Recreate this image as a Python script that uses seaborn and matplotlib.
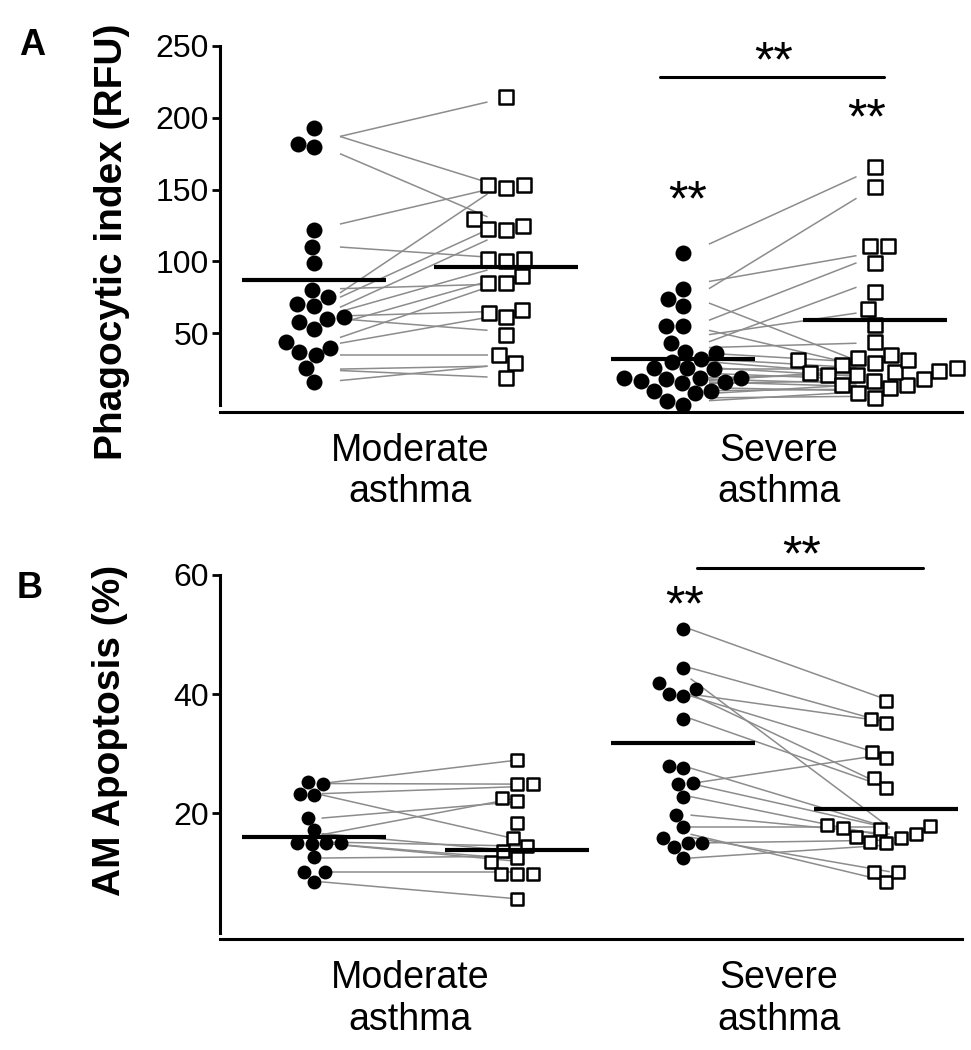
import numpy as np
import pandas as pd
import matplotlib
matplotlib.use("Agg")
import matplotlib.pyplot as plt
import seaborn as sns

groups = ["Moderate\nasthma", "Severe\nasthma"]

# Panel A: phagocytic index (RFU), circles = before, squares = after
a_mod_pre = [193, 180, 182, 122, 110, 99, 80, 70, 69, 75, 60, 53, 58, 61,
             44, 37, 34.5, 40, 25.6, 16]
a_mod_post = [214.6, 153, 151, 153, 129.5, 122.5, 122, 124.6, 100, 102, 102,
              90, 85, 85, 66, 61, 64, 49, 35, 29, 18.6]
a_sev_pre = [106, 81, 74, 69, 55, 55, 43, 37, 36, 32, 30, 26, 25, 25.5,
             18.6, 18.6, 16, 17, 15, 18, 19, 10, 8, 9.5, 0, 3]
a_sev_post = [166, 152, 111, 110.5, 99, 78.5, 67, 56, 44, 34.6, 27.7, 20.7,
              13.7, 29, 23, 17, 11.6, 31, 31, 33, 20.7, 22, 25.6, 13.7, 4.7,
              8, 18, 24]
# paired lines (start value, end value)
a_mod_line_pre = [187, 187, 175, 126, 110, 81, 78, 75, 68, 65, 62, 60, 57,
                  47, 43, 35, 25, 24, 17]
a_mod_line_post = [211, 155, 131, 150, 103, 84, 147, 122, 115, 94, 65, 52,
                   86, 82, 61, 35, 27, 19.5, 27]
a_sev_line_pre = [112, 81, 86, 59, 71, 44, 49, 40, 52, 36, 32, 30, 26, 25,
                  22, 19, 18, 17, 16, 15, 12, 10, 8, 5, 3]
a_sev_line_post = [159, 144, 104, 99, 31, 82, 64, 43, 28, 30, 26, 22, 20, 25,
                   18, 21, 15, 24, 13, 17, 10, 11, 14, 6, 9]
a_means = [(87, 96), (32, 59)]

# Panel B: AM apoptosis (%)
b_mod_pre = [25.2, 23.2, 23.0, 24.9, 19.3, 17.2, 15.0, 14.9, 15.0, 15.0,
             12.6, 10.1, 10.1, 8.5]
b_mod_post = [29.0, 25.0, 24.9, 22.0, 22.5, 18.3, 15.8, 14.5, 13.6, 12.5,
              11.8, 9.9, 9.9, 9.9, 5.6]
b_sev_pre = [50.9, 44.4, 41.8, 40.0, 39.7, 40.9, 35.9, 27.9, 27.6, 25.1,
             25.0, 22.8, 19.7, 17.7, 15.8, 15.0, 14.3, 15.0, 12.5]
b_sev_post = [38.9, 35.1, 35.8, 30.3, 29.3, 25.9, 24.2, 17.3, 17.8, 18.0,
              16.1, 15.2, 15.0, 15.8, 16.6, 17.5, 10.2, 8.5, 10.2]
b_mod_line_pre = [25.0, 25.0, 23.3, 19.2, 23.1, 16.4, 16.6, 15.2, 15.0, 15.0,
                  12.5, 10.1, 8.5]
b_mod_line_post = [29.0, 24.9, 24.5, 22.0, 15.5, 22.7, 13.6, 14.5, 12.3, 11.9,
                   12.8, 10.1, 5.6]
b_sev_line_pre = [50.9, 44.4, 42.6, 40.0, 40.0, 39.7, 35.9, 27.6, 25.0, 25.0,
                  22.8, 19.7, 17.7, 16.5, 16.0, 15.0, 12.5]
b_sev_line_post = [38.9, 35.1, 17.6, 35.3, 24.2, 29.5, 24.2, 17.5, 30.0, 17.5,
                   16.0, 16.5, 17.7, 8.5, 10.2, 15.5, 14.7]
b_means = [(16.1, 13.8), (31.8, 20.7)]


def make_frame(pre_lists, post_lists, off_pre, off_post):
    rows = []
    for gi, (pre, post) in enumerate(zip(pre_lists, post_lists)):
        rows += [(gi + off_pre, v, "pre") for v in pre]
        rows += [(gi + off_post, v, "post") for v in post]
    return pd.DataFrame(rows, columns=["x", "value", "cond"])


def draw_panel(ax, df, lines_pre, lines_post, means, off_pre, off_post,
               line_off, sz_circle, sz_square):
    # paired gray lines
    for gi, (lp, lq) in enumerate(zip(lines_pre, lines_post)):
        for p, q in zip(lp, lq):
            ax.plot([gi + line_off[0], gi + line_off[1]], [p, q],
                    color="#8c8c8c", lw=1.1, zorder=1, solid_capstyle="butt")

    sns.swarmplot(data=df[df.cond == "pre"], x="x", y="value",
                  native_scale=True, orient="x", color="black",
                  size=sz_circle, marker="o", linewidth=0, zorder=3,
                  clip_on=False, legend=False, ax=ax)
    sns.swarmplot(data=df[df.cond == "post"], x="x", y="value",
                  native_scale=True, orient="x", color="white",
                  edgecolor="black", size=sz_square, marker="s",
                  linewidth=1.8, zorder=3, clip_on=False, legend=False, ax=ax)

    # mean bars
    for gi, (m_pre, m_post) in enumerate(means):
        ax.plot([gi + off_pre - 0.195, gi + off_pre + 0.195], [m_pre, m_pre],
                color="black", lw=3, zorder=5, solid_capstyle="butt")
        ax.plot([gi + off_post - 0.195, gi + off_post + 0.195],
                [m_post, m_post], color="black", lw=3, zorder=5,
                solid_capstyle="butt")

    ax.set_xlim(-0.515, 1.496)
    ax.set_xticks([0, 1])
    ax.set_xticklabels(groups)
    ax.set_xlabel("")
    ax.tick_params(axis="x", length=0, pad=15, labelsize=27,
                   labelcolor="black")
    ax.tick_params(axis="y", direction="out", length=6, width=2,
                   labelsize=23, pad=2, color="black", labelcolor="black")
    for lab in ax.get_xticklabels():
        lab.set_linespacing(1.0)
    for s in ["top", "right"]:
        ax.spines[s].set_visible(False)
    for s in ["left", "bottom"]:
        ax.spines[s].set_linewidth(2.2)
        ax.spines[s].set_color("black")
    ax.spines["bottom"].set_position(("outward", 5))


sns.set_style("ticks")
plt.rcParams["font.family"] = ["Liberation Sans", "DejaVu Sans"]
plt.rcParams["text.color"] = "black"
plt.rcParams["axes.labelcolor"] = "black"

fig = plt.figure(figsize=(9.71, 10.5), dpi=100)
ax_a = fig.add_axes([0.2266, 0.6143, 0.7642, 0.3419])
ax_b = fig.add_axes([0.2266, 0.1119, 0.7642, 0.3405])

df_a = make_frame([a_mod_pre, a_sev_pre], [a_mod_post, a_sev_post], -0.26, 0.26)
draw_panel(ax_a, df_a, [a_mod_line_pre, a_sev_line_pre],
           [a_mod_line_post, a_sev_line_post], a_means, -0.26, 0.26,
           (-0.19, 0.21), 11.5, 10.5)
ax_a.set_ylim(0, 250)
ax_a.set_yticks([50, 100, 150, 200, 250])
ax_a.set_ylabel("Phagocytic index (RFU)", fontsize=28, fontweight="bold")
ax_a.yaxis.set_label_coords(-0.121, 0.454)

df_b = make_frame([b_mod_pre, b_sev_pre], [b_mod_post, b_sev_post], -0.26, 0.29)
draw_panel(ax_b, df_b, [b_mod_line_pre, b_sev_line_pre],
           [b_mod_line_post, b_sev_line_post], b_means, -0.26, 0.29,
           (-0.24, 0.30), 10, 9)
ax_b.set_ylim(0, 60)
ax_b.set_yticks([20, 40, 60])
ax_b.set_ylabel("AM Apoptosis (%)", fontsize=28, fontweight="bold")
ax_b.yaxis.set_label_coords(-0.124, 0.566)

# significance marks
star_kw = dict(fontsize=36, ha="center", va="baseline", clip_on=False)
ax_a.plot([0.678, 1.285], [228.7, 228.7], color="black", lw=2.2, clip_on=False)
ax_a.text(0.984, 228.6, "**", **star_kw)
ax_a.text(1.238, 189.4, "**", **star_kw)
ax_a.text(0.751, 132.1, "**", **star_kw)

ax_b.plot([0.778, 1.390], [61.2, 61.2], color="black", lw=2.2, clip_on=False)
ax_b.text(1.062, 60.7, "**", **star_kw)
ax_b.text(0.743, 52.4, "**", **star_kw)

fig.text(0.033, 0.957, "A", fontsize=26, fontweight="bold", ha="center",
         va="center")
fig.text(0.031, 0.44, "B", fontsize=26, fontweight="bold", ha="center",
         va="center")

fig.savefig("out.png", dpi=100)
